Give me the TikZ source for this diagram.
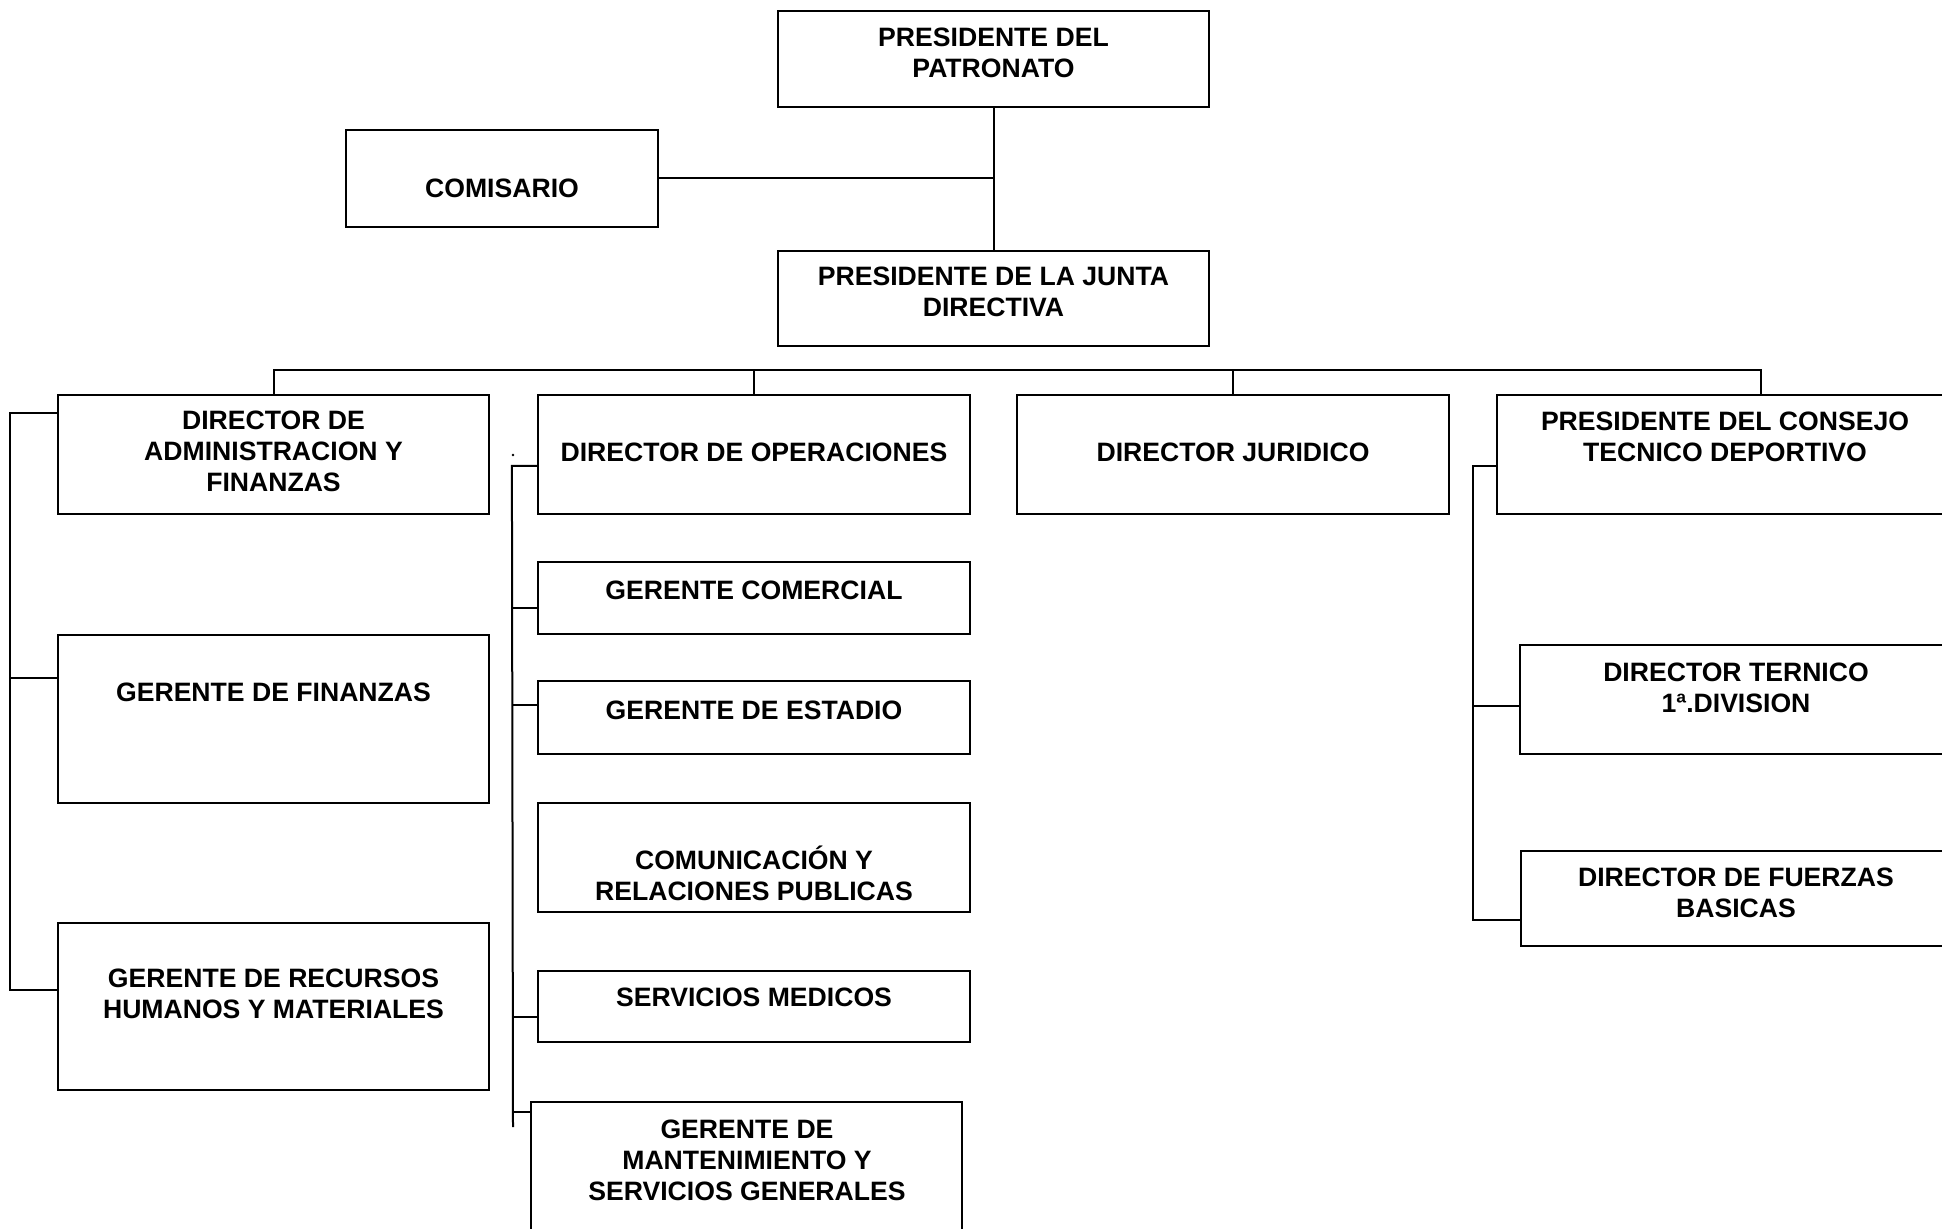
\documentclass[tikz,border=0pt]{standalone}
\usepackage{fontspec}
\setmainfont{Liberation Sans}
\usetikzlibrary{fit}
\begin{document}
\begin{tikzpicture}[x=0.5pt,y=-0.5pt,
  box/.style={draw, line width=1.1pt, inner sep=0pt},
  txt/.style={font=\bfseries\fontsize{13.3pt}{15.5pt}\selectfont, align=center, inner sep=0pt},
  link/.style={line width=1pt}]
\useasboundingbox (0,0) rectangle (1942,1229);
\begin{scope}
\clip (0,0) rectangle (1942,1229);
% boxes
\node[box, fit={(778,11) (1209,107)}] (pp) {};
\node[box, fit={(346,130) (658,227)}] (com) {};
\node[box, fit={(778,251) (1209,346)}] (jd) {};
\node[box, fit={(58,395) (489,514)}] (ad) {};
\node[box, fit={(538,395) (970,514)}] (op) {};
\node[box, fit={(1017,395) (1449,514)}] (jur) {};
\node[box, fit={(1497,395) (2025,514)}] (pc) {};
\node[box, fit={(58,635) (489,803)}] (fi) {};
\node[box, fit={(58,923) (489,1090)}] (rh) {};
\node[box, fit={(538,562) (970,634)}] (gc) {};
\node[box, fit={(538,681) (970,754)}] (ge) {};
\node[box, fit={(538,803) (970,912)}] (cr) {};
\node[box, fit={(538,971) (970,1042)}] (sm) {};
\node[box, fit={(531,1102) (962,1300)}] (mt) {};
\node[box, fit={(1520,645) (2025,754)}] (dt) {};
\node[box, fit={(1521,851) (2025,946)}] (fb) {};
% texts
\node[txt] (pp-t) at (993.5,52.5) {PRESIDENTE DEL\\PATRONATO};
\node[txt] (com-t) at (502,188) {COMISARIO};
\node[txt] (jd-t) at (993.5,292) {PRESIDENTE DE LA JUNTA\\DIRECTIVA};
\node[txt] (ad-t) at (273.5,451) {DIRECTOR DE\\ADMINISTRACION Y\\FINANZAS};
\node[txt] (op-t) at (754,452) {DIRECTOR DE OPERACIONES};
\node[txt] (jur-t) at (1233,452) {DIRECTOR JURIDICO};
\node[txt] (pc-t) at (1725,436.5) {PRESIDENTE DEL CONSEJO\\TECNICO DEPORTIVO};
\node[txt] (fi-t) at (273.5,692) {GERENTE DE FINANZAS};
\node[txt] (rh-t) at (273.5,993.5) {GERENTE DE RECURSOS\\HUMANOS Y MATERIALES};
\node[txt] (gc-t) at (754,590) {GERENTE COMERCIAL};
\node[txt] (ge-t) at (754,710) {GERENTE DE ESTADIO};
\node[txt] (cr-t) at (754,873.5) {COMUNICACIÓN Y\\RELACIONES PUBLICAS};
\node[txt] (sm-t) at (754,997) {SERVICIOS MEDICOS};
\node[txt] (mt-t) at (747,1160) {GERENTE DE\\MANTENIMIENTO Y\\SERVICIOS GENERALES};
\node[txt] (dt-t) at (1736,687.5) {DIRECTOR TERNICO\\1ª.DIVISION};
\node[txt] (fb-t) at (1736,892.5) {DIRECTOR DE FUERZAS\\BASICAS};
% top connectors
\draw[link] (pp) -- (jd);
\draw[link] (com.east) -- (com.east -| pp.south);
% bus
\coordinate (bus) at (0,370);
\draw[link] (ad.north) -- (ad.north |- bus) -- (pc.north |- bus) -- (pc.north);
\draw[link] (op.north) -- (op.north |- bus);
\draw[link] (jur.north) -- (jur.north |- bus);
% left spine
\draw[link] ([yshift=-9.5pt]ad.north west) -- ++(-47,0) |- ([yshift=-34pt]rh.north west);
\draw[link] ([yshift=-22pt]fi.north west) -- ++(-47,0);
% middle spine
\coordinate (ms) at (513,1127);
\draw[link] ([yshift=-36pt]op.north west) -- ++(-25,0) -- (ms);
\draw[link] ([yshift=-23.5pt]gc.north west) -- ++(-25,0);
\draw[link] ([yshift=-12.5pt]ge.north west) -- ++(-25,0);
\draw[link] ([yshift=-23.5pt]sm.north west) -- ++(-25,0);
\draw[link] ([yshift=-5.5pt]mt.north west) -- ++(-18,0);
\fill (513,455) circle (1.3);
% right spine
\draw[link] ([yshift=-36pt]pc.north west) -- ++(-23,0) |- ([yshift=-35pt]fb.north west);
\draw[link] ([yshift=-31pt]dt.north west) -- ++(-46,0);
\end{scope}
\end{tikzpicture}
\end{document}
